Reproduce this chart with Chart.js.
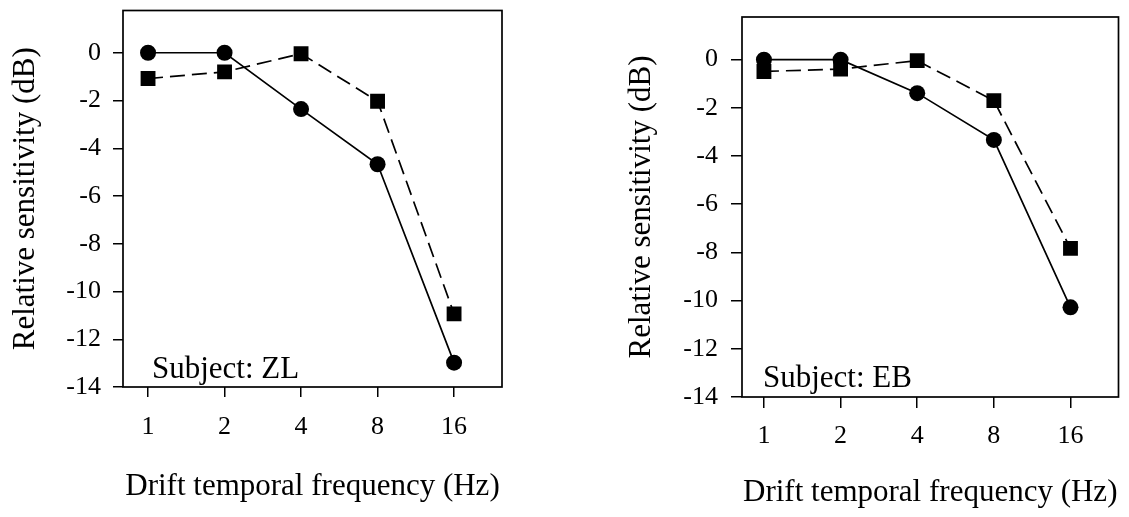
<!DOCTYPE html>
<html><head><meta charset="utf-8">
<script src="https://cdn.jsdelivr.net/npm/chart.js@4/dist/chart.umd.min.js"></script>
<style>
html,body{margin:0;padding:0;background:#fff;}
body{width:1129px;height:517px;position:relative;overflow:hidden;}
canvas{position:absolute;top:0;}
</style></head><body>
<canvas id="c1" width="560" height="517" style="left:0px"></canvas>
<canvas id="c2" width="529" height="517" style="left:600px"></canvas>
<script>
// ---- data ----
const freqHz = [1, 2, 4, 8, 16];
const freqTickLabels = ['1', '2', '4', '8', '16'];
const sensTicks = [-14, -12, -10, -8, -6, -4, -2, 0];
const zlCircles = [0, 0, -2.36, -4.67, -12.98];
const zlSquares = [-1.08, -0.80, -0.04, -2.03, -10.94];
const ebCircles = [0, 0, -1.39, -3.33, -10.28];
const ebSquares = [-0.49, -0.39, -0.04, -1.70, -7.83];
const yTitle = 'Relative sensitivity (dB)';
const xTitle = 'Drift temporal frequency (Hz)';
const subjects = ['Subject: ZL', 'Subject: EB'];

const FONT = '"Liberation Serif", "Times New Roman", Times, serif';

function makePanel(canvasId, circles, squares, subject, g) {
  const W = g.W, H = 517;
  const boxPlugin = {
    id: 'box',
    afterDraw(chart) {
      const a = chart.chartArea, ctx = chart.ctx;
      ctx.save();
      ctx.strokeStyle = '#000';
      ctx.lineWidth = 1.7;
      ctx.strokeRect(a.left, a.top, a.right - a.left, a.bottom - a.top);
      ctx.fillStyle = '#000';
      ctx.font = '31px ' + FONT;
      ctx.textAlign = 'left';
      ctx.textBaseline = 'alphabetic';
      ctx.fillText(subject, a.left + g.subX, a.bottom - g.subY);
      ctx.restore();
    }
  };
  return new Chart(document.getElementById(canvasId), {
    type: 'line',
    data: {
      datasets: [
        {
          data: freqHz.map((f, i) => ({x: f, y: circles[i]})),
          borderColor: '#000', backgroundColor: '#000', borderWidth: 1.7,
          pointStyle: 'circle', pointRadius: 8, pointHoverRadius: 8,
          pointBorderWidth: 0, fill: false, tension: 0
        },
        {
          data: freqHz.map((f, i) => ({x: f, y: squares[i]})),
          borderColor: '#000', backgroundColor: '#000', borderWidth: 1.7,
          borderDash: [15, 7],
          pointStyle: 'rect', pointRadius: 10.5, pointHoverRadius: 10.5,
          pointBorderWidth: 0, fill: false, tension: 0
        }
      ]
    },
    options: {
      responsive: false,
      animation: false,
      events: [],
      layout: {padding: {left: 0, top: g.top, right: W - g.right, bottom: 0}},
      plugins: {legend: {display: false}, tooltip: {enabled: false}},
      scales: {
        x: {
          type: 'logarithmic',
          min: g.xMin, max: g.xMax,
          afterFit(s) { s.height = H - g.bottom; s.paddingLeft = 0; s.paddingRight = 0; },
          afterBuildTicks(s) { s.ticks = freqHz.map(v => ({value: v})); },
          ticks: {
            callback: (v) => freqTickLabels[freqHz.indexOf(v)],
            color: '#000', font: {family: FONT, size: 26},
            padding: g.xLabPad, maxRotation: 0, autoSkip: false
          },
          grid: {drawOnChartArea: false, drawTicks: true, tickLength: g.tick, color: '#000', lineWidth: 1.5},
          border: {display: false},
          title: {display: true, text: xTitle, color: '#000',
                  font: {family: FONT, size: 31}, padding: {top: 0, bottom: g.xTitlePad}}
        },
        y: {
          type: 'linear',
          min: -14, max: 1.77,
          afterFit(s) { s.width = g.left; s.paddingTop = 0; s.paddingBottom = 0; },
          afterBuildTicks(s) { s.ticks = sensTicks.map(v => ({value: v})); },
          ticks: {color: '#000', font: {family: FONT, size: 26}, padding: g.yLabPad},
          grid: {drawOnChartArea: false, drawTicks: true, tickLength: g.tick, color: '#000', lineWidth: 1.5},
          border: {display: false},
          title: {display: true, text: yTitle, color: '#000',
                  font: {family: FONT, size: 31}, padding: {top: g.yTitlePad, bottom: 0}}
        }
      }
    },
    plugins: [boxPlugin]
  });
}

makePanel('c1', zlCircles, zlSquares, subjects[0], {
  W: 560, left: 123, right: 502, top: 8, bottom: 387,
  xMin: 0.797, xMax: 24.7, tick: 10, xLabPad: 15, yLabPad: 12,
  xTitlePad: 12, yTitlePad: 7, subX: 29, subY: 9
});
makePanel('c2', ebCircles, ebSquares, subjects[1], {
  W: 529, left: 142, right: 519, top: 17, bottom: 397,
  xMin: 0.820, xMax: 24.7, tick: 11, xLabPad: 13, yLabPad: 13,
  xTitlePad: 6, yTitlePad: 23, subX: 21, subY: 10
});
</script>
</body></html>
